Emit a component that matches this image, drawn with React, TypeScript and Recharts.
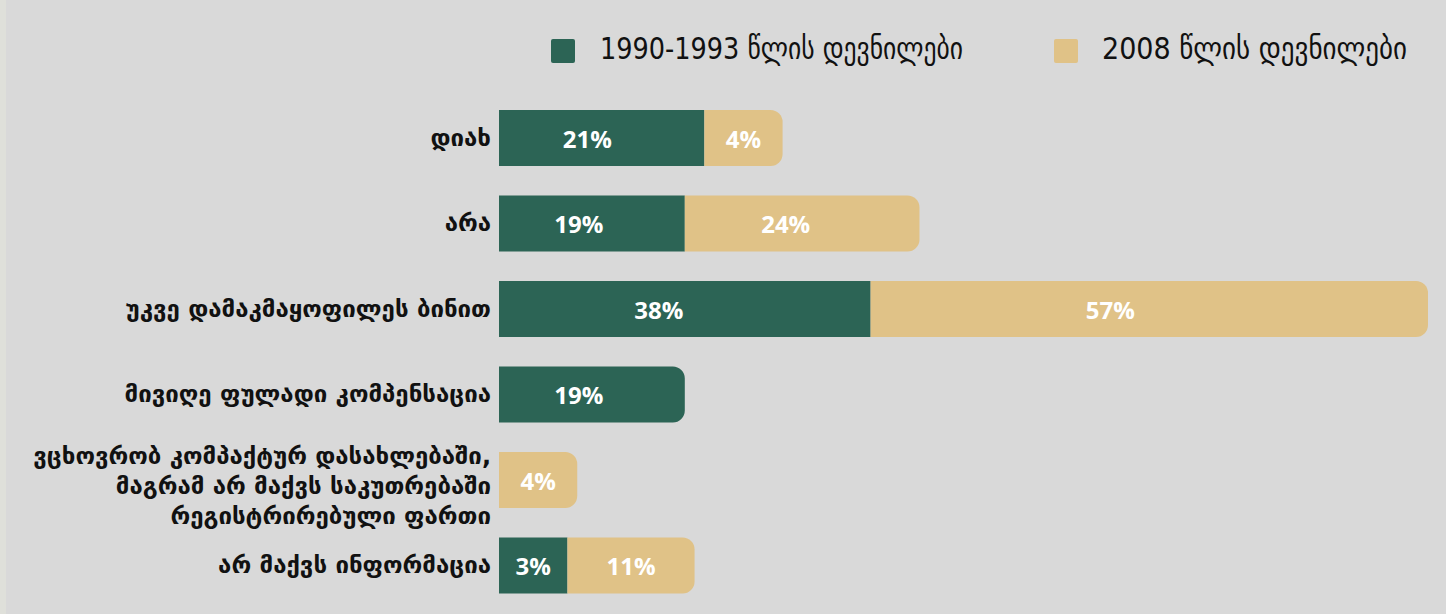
import React from 'react';
import { BarChart, Bar, XAxis, YAxis, LabelList, Legend, Rectangle } from 'recharts';

const categories = [
  'დიახ',
  'არა',
  'უკვე დამაკმაყოფილეს ბინით',
  'მივიღე ფულადი კომპენსაცია',
  'ვცხოვრობ კომპაქტურ დასახლებაში,\nმაგრამ არ მაქვს საკუთრებაში\nრეგისტრირებული ფართი',
  'არ მაქვს ინფორმაცია',
];
// percentages printed on the bars
const earlyValues = [21, 19, 38, 19, null, 3];
const lateValues = [4, 24, 57, null, 4, 11];
// bar lengths as drawn in the picture (small segments are widened by the designer)
const earlyLengths = [21, 19, 38, 19, null, 7];
const lateLengths = [8, 24, 57, null, 8, 13];

const seriesNames = ['1990-1993 წლის დევნილები', '2008 წლის დევნილები'];

const GREEN = '#2c6455';
const AMBER = '#e0c287';
const BG = '#d9d9d9';

const data = categories.map((cat, i) => ({
  cat,
  earlyLen: earlyLengths[i],
  lateLen: lateLengths[i],
  earlyVal: earlyValues[i],
  lateVal: lateValues[i],
}));

const RADIUS = 12;

const GreenShape = (props: any) => {
  const r = props.payload && props.payload.lateLen ? 0 : [0, RADIUS, RADIUS, 0];
  return <Rectangle {...props} fill={GREEN} radius={r as any} />;
};
const AmberShape = (props: any) => <Rectangle {...props} fill={AMBER} radius={[0, RADIUS, RADIUS, 0] as any} />;

const CategoryTick = (props: any) => {
  const { x, y, payload } = props;
  const lines: string[] = String(payload.value).split('\n');
  const lh = 30;
  const offset = lines.length > 1 ? 6 : 0;
  return (
    <g>
      {lines.map((ln, i) => (
        <text
          key={i}
          x={x}
          y={y + offset + (i - (lines.length - 1) / 2) * lh}
          textAnchor="end"
          dominantBaseline="central"
          fontFamily="'DejaVu Sans', sans-serif"
          fontWeight={700}
          fontSize={24}
          fill="#111"
        >
          {ln}
        </text>
      ))}
    </g>
  );
};

const LegendContent = () => (
  <svg width={1446} height={80} style={{ display: 'block' }}>
    <rect x={551} y={39} width={24} height={24} rx={2} fill={GREEN} />
    <text x={600} y={59} fontFamily="'DejaVu Sans Condensed', 'DejaVu Sans', sans-serif" fontSize={31} fill="#111" textLength={363} lengthAdjust="spacingAndGlyphs">
      {seriesNames[0]}
    </text>
    <rect x={1054} y={39} width={24} height={24} rx={2} fill={AMBER} />
    <text x={1102} y={59} fontFamily="'DejaVu Sans Condensed', 'DejaVu Sans', sans-serif" fontSize={31} fill="#111" textLength={305} lengthAdjust="spacingAndGlyphs">
      {seriesNames[1]}
    </text>
  </svg>
);

const pct = (v: any) => (v === null || v === undefined ? '' : `${v}%`);

const renderLabel = (key: 'earlyVal' | 'lateVal') => (props: any) => {
  const { x, y, width, height, index } = props;
  const v = data[index] ? data[index][key] : null;
  if (v === null || v === undefined) return null;
  const frac = width > 150 ? 0.43 : 0.5;
  return (
    <text
      x={x + width * frac}
      y={y + height / 2}
      textAnchor="middle"
      dominantBaseline="central"
      fill="#ffffff"
      fontFamily="'Open Sans', sans-serif"
      fontWeight={700}
      fontSize={24}
    >
      {pct(v)}
    </text>
  );
};

export default function App() {
  return (
    <div style={{ position: 'absolute', left: 0, top: 0, width: 1446, height: 614, background: BG, overflow: 'hidden' }}>
      <div style={{ position: 'absolute', left: 0, top: 0, width: 6, height: 614, background: '#dfe0da' }} />
      <BarChart
        width={1446}
        height={614}
        data={data}
        layout="vertical"
        margin={{ top: 95, right: 18, bottom: 6, left: 0 }}
        barCategoryGap={0}
      >
        <XAxis type="number" domain={[0, 95]} hide />
        <YAxis
          type="category"
          dataKey="cat"
          width={499}
          axisLine={false}
          tickLine={false}
          tick={<CategoryTick />}
          interval={0}
        />
        <Legend
          verticalAlign="middle"
          align="center"
          layout="horizontal"
          content={<LegendContent />}
          wrapperStyle={{ top: 0, left: 0, width: 1446, height: 80 }}
        />
        <Bar dataKey="earlyLen" stackId="a" barSize={56} fill={GREEN} shape={GreenShape} isAnimationActive={false} name={seriesNames[0]}>
          <LabelList dataKey="earlyVal" content={renderLabel('earlyVal')} />
        </Bar>
        <Bar dataKey="lateLen" stackId="a" barSize={56} fill={AMBER} shape={AmberShape} isAnimationActive={false} name={seriesNames[1]}>
          <LabelList dataKey="lateVal" content={renderLabel('lateVal')} />
        </Bar>
      </BarChart>
    </div>
  );
}
